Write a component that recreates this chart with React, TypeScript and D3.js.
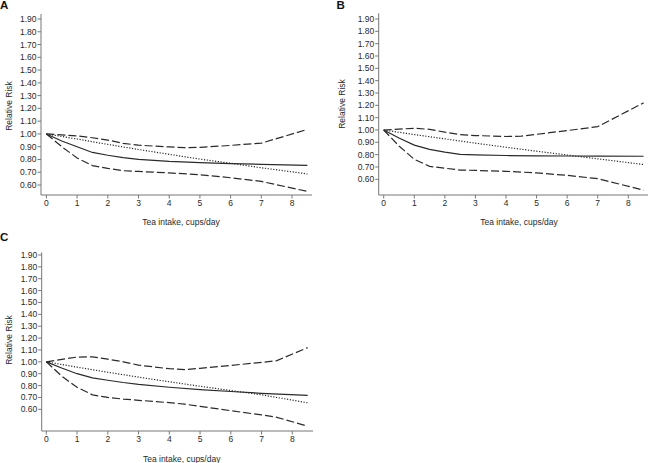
import React from "react";
import * as d3 from "d3";

// ---- data ----
const yTicks = [0.6, 0.7, 0.8, 0.9, 1.0, 1.1, 1.2, 1.3, 1.4, 1.5, 1.6, 1.7, 1.8, 1.9];
const xTicks = [0, 1, 2, 3, 4, 5, 6, 7, 8];
const xLabel = "Tea intake, cups/day";
const yLabel = "Relative Risk";

const aSolid: [number, number][] = [[0, 1.0], [0.5, 0.945], [1, 0.9], [1.5, 0.855], [2, 0.833], [2.5, 0.815], [3, 0.8], [4, 0.785], [5, 0.776], [6, 0.768], [7, 0.762], [8.5, 0.754]];
const aTrend: [number, number][] = [[0, 1.0], [1, 0.96], [2, 0.918], [3, 0.878], [4, 0.84], [5, 0.803], [6, 0.77], [7, 0.735], [8.5, 0.687]];
const aUpper: [number, number][] = [[0, 1.0], [1, 0.985], [1.5, 0.97], [2, 0.952], [2.5, 0.926], [3, 0.912], [4, 0.898], [4.5, 0.892], [5, 0.895], [6, 0.91], [7, 0.928], [8.5, 1.035]];
const aLower: [number, number][] = [[0, 1.0], [0.5, 0.9], [1, 0.812], [1.5, 0.752], [2, 0.73], [2.5, 0.712], [3, 0.706], [4, 0.695], [5, 0.68], [6, 0.657], [7, 0.628], [8.5, 0.55]];

const bSolid: [number, number][] = [[0, 1.0], [0.5, 0.935], [1, 0.877], [1.5, 0.843], [2, 0.82], [2.5, 0.802], [3, 0.798], [4, 0.793], [5, 0.79], [6, 0.789], [7, 0.788], [8.5, 0.787]];
const bTrend: [number, number][] = [[0, 1.0], [1, 0.963], [2, 0.928], [3, 0.893], [4, 0.86], [5, 0.828], [6, 0.797], [7, 0.766], [8.5, 0.72]];
const bUpper: [number, number][] = [[0, 1.0], [1, 1.014], [1.5, 1.005], [2, 0.982], [2.5, 0.962], [3, 0.955], [4, 0.947], [4.5, 0.95], [5, 0.965], [6, 0.995], [7, 1.027], [8.5, 1.22]];
const bLower: [number, number][] = [[0, 1.0], [0.5, 0.87], [1, 0.762], [1.5, 0.705], [2, 0.69], [2.5, 0.675], [3, 0.672], [4, 0.665], [5, 0.652], [6, 0.632], [7, 0.605], [8.5, 0.512]];

const cSolid: [number, number][] = [[0, 1.0], [0.5, 0.948], [1, 0.9], [1.5, 0.865], [2, 0.845], [2.5, 0.826], [3, 0.81], [4, 0.786], [5, 0.766], [6, 0.75], [7, 0.735], [8.5, 0.718]];
const cTrend: [number, number][] = [[0, 1.0], [1, 0.955], [2, 0.912], [3, 0.871], [4, 0.832], [5, 0.794], [6, 0.758], [7, 0.722], [8.5, 0.655]];
const cUpper: [number, number][] = [[0, 1.0], [1, 1.04], [1.5, 1.042], [2, 1.022], [2.5, 1.0], [3, 0.972], [4, 0.942], [4.5, 0.935], [5, 0.945], [6, 0.97], [7, 0.995], [7.5, 1.01], [8.5, 1.12]];
const cLower: [number, number][] = [[0, 1.0], [0.5, 0.88], [1, 0.785], [1.5, 0.722], [2, 0.7], [2.5, 0.686], [3, 0.676], [4, 0.656], [4.5, 0.643], [5, 0.625], [6, 0.588], [7, 0.553], [7.5, 0.532], [8.5, 0.458]];

const panels = [
  { letter: "A", solid: aSolid, trend: aTrend, upper: aUpper, lower: aLower,
    ax: 41, x0: 46.4, x8: 292, xEnd: 312, yTop: 14, yBot: 195, y19: 19, y06: 185,
    letterX: 0, letterY: 8.5, yLabX: 12, yLabY: 106, xLabX: 181, xLabY: 224.5 },
  { letter: "B", solid: bSolid, trend: bTrend, upper: bUpper, lower: bLower,
    ax: 378.7, x0: 383.7, x8: 628.3, xEnd: 648, yTop: 13.3, yBot: 195, y19: 19, y06: 179.3,
    letterX: 336.5, letterY: 9.3, yLabX: 345, yLabY: 104, xLabX: 519, xLabY: 224.5 },
  { letter: "C", solid: cSolid, trend: cTrend, upper: cUpper, lower: cLower,
    ax: 41.7, x0: 46.3, x8: 292.3, xEnd: 313, yTop: 252.3, yBot: 431, y19: 255, y06: 409.3,
    letterX: 0, letterY: 240.7, yLabX: 12, yLabY: 340, xLabX: 181.7, xLabY: 461.5 },
];

const FONT = "'Liberation Sans', Arial, Helvetica, sans-serif";
const LINE = "#2a2a2a";
const AXIS = "#777";

function Panel({ p }: { p: (typeof panels)[number] }) {
  const x = d3.scaleLinear().domain([0, 8]).range([p.x0, p.x8]);
  const y = d3.scaleLinear().domain([0.6, 1.9]).range([p.y06, p.y19]);
  const line = d3.line<[number, number]>().x((d) => x(d[0])).y((d) => y(d[1]));
  return (
    <g>
      <text x={p.letterX} y={p.letterY} fontFamily={FONT} fontWeight="bold" fontSize={11.5} fill="#111">{p.letter}</text>
      <line x1={p.ax} x2={p.ax} y1={p.yTop} y2={p.yBot} stroke={AXIS} strokeWidth={1} />
      <line x1={p.ax} x2={p.xEnd} y1={p.yBot} y2={p.yBot} stroke={AXIS} strokeWidth={1} />
      {yTicks.map((t) => (
        <g key={t}>
          <line x1={p.ax - 3.5} x2={p.ax} y1={y(t)} y2={y(t)} stroke={AXIS} strokeWidth={1} />
          <text x={p.ax - 4.5} y={y(t)} dy="0.35em" textAnchor="end" fontFamily={FONT} fontSize={8.5} fill="#2a2a2a">{t.toFixed(2)}</text>
        </g>
      ))}
      {xTicks.map((t) => (
        <g key={t}>
          <line x1={x(t)} x2={x(t)} y1={p.yBot} y2={p.yBot + 3.5} stroke={AXIS} strokeWidth={1} />
          <text x={x(t)} y={p.yBot + 10.5} textAnchor="middle" fontFamily={FONT} fontSize={8.5} fill="#2a2a2a">{t}</text>
        </g>
      ))}
      <text x={p.xLabX} y={p.xLabY} textAnchor="middle" fontFamily={FONT} fontSize={8.5} fill="#2a2a2a">{xLabel}</text>
      <text transform={`translate(${p.yLabX},${p.yLabY}) rotate(-90)`} textAnchor="middle" fontFamily={FONT} fontSize={8.5} fill="#2a2a2a">{yLabel}</text>
      <path d={line(p.upper) || ""} fill="none" stroke={LINE} strokeWidth={1.2} strokeDasharray="8,3" />
      <path d={line(p.lower) || ""} fill="none" stroke={LINE} strokeWidth={1.2} strokeDasharray="8,3" />
      <path d={line(p.trend) || ""} fill="none" stroke={LINE} strokeWidth={1.2} strokeDasharray="1.2,1.6" />
      <path d={line(p.solid) || ""} fill="none" stroke={LINE} strokeWidth={1.2} />
    </g>
  );
}

export default function App() {
  return (
    <svg width={650} height={463} style={{ position: "absolute", left: 0, top: 0, background: "#fff" }}>
      <rect width={650} height={463} fill="#fff" />
      {panels.map((p) => <Panel key={p.letter} p={p} />)}
    </svg>
  );
}
